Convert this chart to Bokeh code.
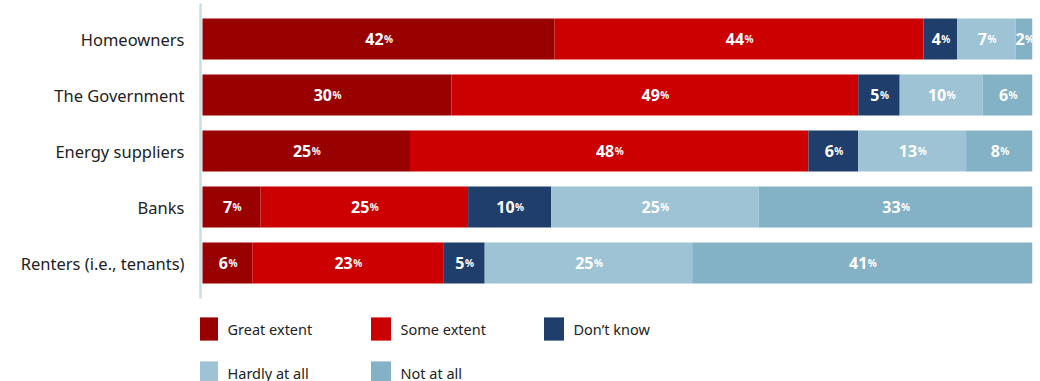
import numpy as np
from bokeh.plotting import figure
from bokeh.models import ColumnDataSource, Range1d, FixedTicker, Legend, LegendItem
from bokeh.core.properties import value
from bokeh.embed import file_html
from bokeh.resources import INLINE

categories = ["Homeowners", "The Government", "Energy suppliers", "Banks", "Renters (i.e., tenants)"]
series = ["Great extent", "Some extent", "Don\u2019t know", "Hardly at all", "Not at all"]
great_extent = [42, 30, 25, 7, 6]
some_extent = [44, 49, 48, 25, 23]
dont_know = [4, 5, 6, 10, 5]
hardly_at_all = [7, 10, 13, 25, 25]
not_at_all = [2, 6, 8, 33, 41]
colors = ["#990000", "#CC0000", "#1F3E6B", "#9DC3D4", "#83B1C6"]

values = np.array([great_extent, some_extent, dont_know, hardly_at_all, not_at_all], dtype=float)
totals = values.sum(axis=0)
shares = values / totals * 100.0
ypos = list(range(len(categories)))
keys = ["s%d" % i for i in range(len(series))]

bar_src = ColumnDataSource(dict(y=ypos, **{k: list(shares[i]) for i, k in enumerate(keys)}))

cum = np.cumsum(shares, axis=0)
lx, ly, lnum, lpct, noff, poff = [], [], [], [], [], []
for i in range(len(series)):
    for j in range(len(categories)):
        left = cum[i, j] - shares[i, j]
        lx.append(float(left + shares[i, j] / 2))
        ly.append(ypos[j])
        s = str(int(values[i, j]))
        lnum.append(s)
        lpct.append("%")
        anchor = len(s) * 9.0 / 2 - 4.0
        noff.append(anchor)
        poff.append(anchor + 0.5)
lab_src = ColumnDataSource(dict(x=lx, y=ly, num=lnum, pct=lpct, noff=noff, poff=poff))

p = figure(width=1040, height=381, output_backend="svg", toolbar_location=None,
           x_range=Range1d(-0.241, 100), y_range=Range1d(6.116, -0.634),
           min_border_left=200, min_border_right=8,
           min_border_top=3, min_border_bottom=0)
p.outline_line_color = None
p.grid.visible = False
p.xaxis.visible = False

rs = p.hbar_stack(keys, y="y", height=0.732, fill_color=colors, line_color=None, source=bar_src)

p.text(x="x", y="y", text="num", source=lab_src, x_offset="noff", text_align="right",
       text_baseline="middle", text_color="white", text_font=value("Noto Sans"),
       text_font_size="16px", text_font_style="bold")
p.text(x="x", y="y", text="pct", source=lab_src, x_offset="poff", text_align="left",
       text_baseline="middle", text_color="white", text_font=value("Noto Sans"),
       text_font_size="10px", text_font_style="bold")

ax = p.yaxis[0]
ax.ticker = FixedTicker(ticks=ypos)
ax.bounds = (-0.634, 4.634)
ax.major_label_overrides = {y: c for y, c in zip(ypos, categories)}
ax.axis_line_color = "#C8DEE9"
ax.axis_line_width = 2.5
ax.major_tick_line_color = None
ax.minor_tick_line_color = None
ax.major_label_standoff = 10
ax.major_label_text_font = "Noto Sans"
ax.major_label_text_font_size = "16.5px"
ax.major_label_text_color = "#222222"

legend = Legend(items=[LegendItem(label=series[i], renderers=[rs[i]]) for i in range(len(series))],
                orientation="horizontal", ncols=3, location=(-5.5, -6), margin=0, padding=0,
                spacing=15, glyph_width=25, glyph_height=29, label_standoff=8, label_width=125,
                label_height=29, label_text_font="Noto Sans", label_text_font_size="14.5px",
                label_text_color="#222222", border_line_color=None, background_fill_alpha=0)
p.add_layout(legend)

open("out.html", "w").write(file_html(p, INLINE))
